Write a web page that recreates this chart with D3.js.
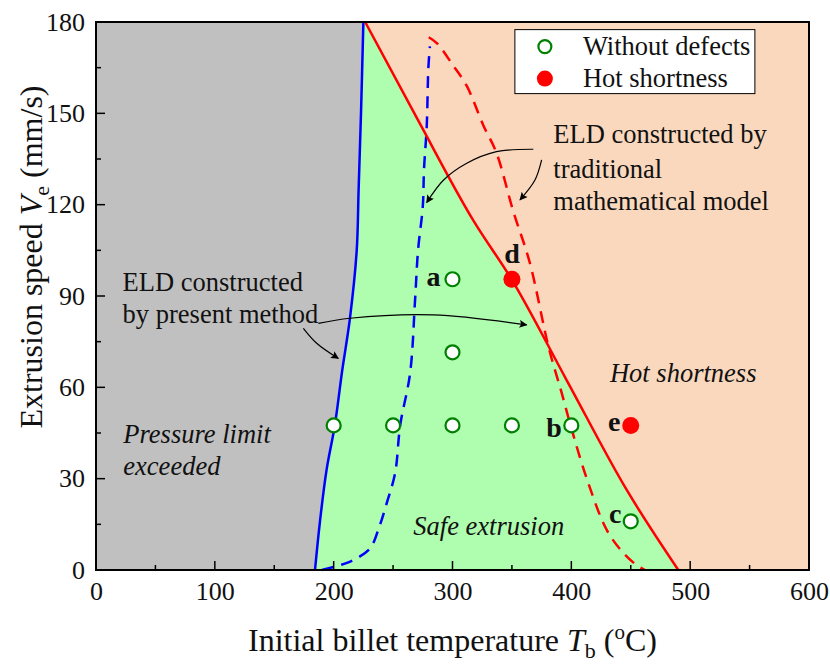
<html>
    <head>
        <script src="https://d3js.org/d3.v7.min.js"></script>
        <style>
            body { margin: 0; background: #fff; }
        </style>
    </head>
    <body>
        <div id="svg-area"></div>
        <script>
            const FONT = 'Liberation Serif';

            // boundary of "present method" (pressure limit), T (oC) vs V (mm/s)
            const presentT = [184.3, 188.6, 194, 201, 207, 213.8, 219.4, 221, 223, 225];
            const presentV = [0, 16.4, 32.8, 47.6, 65, 83, 105, 125, 150, 180];

            // hot shortness boundary, present method
            const hotT = [226.5, 272, 318, 350, 396, 446.6, 490];
            const hotV = [180, 147, 114.5, 95.3, 62.4, 26.3, 0];

            // traditional model, pressure limit (dashed blue)
            const tradPressT = [190, 205.4, 216.6, 230.6, 238.4, 244.6, 251.7, 256, 264.3, 268.5, 271, 275, 276, 278.3, 279.7, 281];
            const tradPressV = [0, 1.6, 3.3, 7.1, 14.2, 21.9, 31.8, 47.6, 64.6, 88.7, 105, 119.4, 131.4, 145.6, 165, 172];

            // traditional model, hot shortness (dashed red)
            const tradHotT = [280, 287, 300, 312, 326, 337, 351, 365, 381, 392, 399, 413, 430, 444, 455, 462];
            const tradHotV = [175, 173, 166, 159, 146, 137, 118, 101, 73, 58, 48, 30, 13, 5.5, 1.6, 0];

            // experiments
            const okT = [200, 250, 300, 350, 400, 300, 300, 450];
            const okV = [47.5, 47.5, 47.5, 47.5, 47.5, 95.5, 71.5, 16];
            const badT = [350, 450];
            const badV = [95.5, 47.5];

            const xTicks = [0, 100, 200, 300, 400, 500, 600];
            const yTicks = [0, 30, 60, 90, 120, 150, 180];

            const width = 830, height = 666;
            const margins = { top: 22, right: 21, bottom: 96, left: 96 };
            const chartWidth = width - margins.left - margins.right;
            const chartHeight = height - margins.top - margins.bottom;

            const svg = d3.select('#svg-area').append('svg')
                .attr('width', width).attr('height', height);

            const defs = svg.append('defs');
            defs.append('marker')
                .attr('id', 'head')
                .attr('viewBox', '0 0 10 10')
                .attr('refX', 9).attr('refY', 5)
                .attr('markerWidth', 14).attr('markerHeight', 8)
                .attr('markerUnits', 'userSpaceOnUse')
                .attr('orient', 'auto')
                .append('path').attr('d', 'M0,0 L10,5 L0,10 L2,5 Z').attr('fill', '#000');

            const chart = svg.append('g').attr('transform', `translate(${margins.left},${margins.top})`);

            const x = d3.scaleLinear().domain([0, 600]).range([0, chartWidth]);
            const y = d3.scaleLinear().domain([0, 180]).range([chartHeight, 0]);

            const zip = (ts, vs) => ts.map((t, i) => [t, vs[i]]);
            const present = zip(presentT, presentV);
            const hot = zip(hotT, hotV);

            const line = d3.line().x(d => x(d[0])).y(d => y(d[1]));
            const smooth = d3.line().x(d => x(d[0])).y(d => y(d[1])).curve(d3.curveCatmullRom);
            const hotLine = d3.line().x(d => x(d[0])).y(d => y(d[1])).curve(d3.curveMonotoneX);

            // regions
            chart.append('path')
                .attr('d', line([[0, 0], ...present, [0, 180]]) + 'Z')
                .attr('fill', '#c0c0c0');
            chart.append('path')
                .attr('d', line([...present]) + hotLine(hot).replace(/^M/, 'L') + 'Z')
                .attr('fill', '#affdaf');
            chart.append('path')
                .attr('d', hotLine(hot) + 'L' + x(600) + ',' + y(0) + 'L' + x(600) + ',' + y(180) + 'Z')
                .attr('fill', '#fad8bd');

            // boundaries
            chart.append('path').attr('d', smooth(zip(tradPressT, tradPressV)))
                .attr('fill', 'none').attr('stroke', '#0000ff').attr('stroke-width', 2.5)
                .attr('stroke-dasharray', '12,8');
            chart.append('path').attr('d', smooth(zip(tradHotT, tradHotV)))
                .attr('fill', 'none').attr('stroke', '#ff0000').attr('stroke-width', 2.5)
                .attr('stroke-dasharray', '12,8');
            chart.append('path').attr('d', smooth(present))
                .attr('fill', 'none').attr('stroke', '#0000ff').attr('stroke-width', 2.5);
            chart.append('path').attr('d', hotLine(hot))
                .attr('fill', 'none').attr('stroke', '#ff0000').attr('stroke-width', 2.5);

            // arrows (data coordinates)
            const arrows = [
                [[368, 138.2], [337, 137.4], [312, 133.6], [292.5, 128.1], [278.3, 120.7]],
                [[375, 134.7], [369.4, 128.1], [356.8, 121.6]],
                [[187.1, 81], [213.8, 82.7], [283.9, 83.8], [362.4, 80.5]],
                [[174.5, 79.4], [185.7, 74.5], [203.9, 69.5]]
            ];
            arrows.forEach(a => {
                chart.append('path').attr('d', smooth(a))
                    .attr('fill', 'none').attr('stroke', '#000').attr('stroke-width', 1.2)
                    .attr('marker-end', 'url(#head)');
            });

            // points
            okT.forEach((t, i) => {
                chart.append('circle')
                    .attr('cx', x(t)).attr('cy', y(okV[i])).attr('r', 7)
                    .attr('fill', '#fff').attr('stroke', '#008000').attr('stroke-width', 2.2);
            });
            badT.forEach((t, i) => {
                chart.append('circle')
                    .attr('cx', x(t)).attr('cy', y(badV[i])).attr('r', 8.5)
                    .attr('fill', '#ff0000');
            });

            // point letters
            const letters = [
                { s: 'a', t: 284, v: 93.3 },
                { s: 'd', t: 350, v: 100.8 },
                { s: 'b', t: 385.5, v: 43.7 },
                { s: 'e', t: 436, v: 45.7 },
                { s: 'c', t: 437, v: 15.3 }
            ];
            letters.forEach(l => {
                chart.append('text').attr('x', x(l.t)).attr('y', y(l.v))
                    .attr('text-anchor', 'middle').attr('font-weight', 'bold')
                    .attr('font-size', 28).attr('fill', '#111').text(l.s);
            });

            // notes
            const notes = [
                { s: 'ELD constructed by', t: 384.8, v: 140.3, it: false },
                { s: 'traditional', t: 384.8, v: 128.8, it: false },
                { s: 'mathematical model', t: 384.8, v: 118.3, it: false },
                { s: 'ELD constructed', t: 22.4, v: 91.7, it: false },
                { s: 'by present method', t: 22.4, v: 81, it: false },
                { s: 'Pressure limit', t: 23, v: 41.7, it: true },
                { s: 'exceeded', t: 23, v: 31.2, it: true },
                { s: 'Hot shortness', t: 432.5, v: 61.8, it: true },
                { s: 'Safe extrusion', t: 267, v: 11.5, it: true }
            ];
            notes.forEach(n => {
                chart.append('text').attr('x', x(n.t)).attr('y', y(n.v))
                    .attr('font-size', 26.5).attr('font-style', n.it ? 'italic' : 'normal')
                    .attr('fill', '#111').text(n.s);
            });

            // axes
            const bottomAxis = d3.axisBottom(x).tickValues(xTicks).tickSize(0).tickPadding(12);
            chart.append('g').attr('transform', `translate(0,${chartHeight})`).call(bottomAxis)
                .call(g => g.select('.domain').remove())
                .selectAll('text').attr('font-size', 26).attr('fill', '#111');
            const leftAxis = d3.axisLeft(y).tickValues(yTicks).tickSize(0).tickPadding(11);
            chart.append('g').call(leftAxis)
                .call(g => g.select('.domain').remove())
                .selectAll('text').attr('font-size', 26).attr('fill', '#111');

            // inward ticks
            const xMinor = d3.range(0, 601, 50);
            chart.append('g').selectAll('line').data(xMinor).join('line')
                .attr('x1', d => x(d)).attr('x2', d => x(d))
                .attr('y1', chartHeight).attr('y2', d => chartHeight - (d % 100 === 0 ? 9 : 5))
                .attr('stroke', '#000').attr('stroke-width', 1.5);
            const yMinor = d3.range(0, 181, 15);
            chart.append('g').selectAll('line').data(yMinor).join('line')
                .attr('y1', d => y(d)).attr('y2', d => y(d))
                .attr('x1', 0).attr('x2', d => (d % 30 === 0 ? 9 : 5))
                .attr('stroke', '#000').attr('stroke-width', 1.5);

            chart.append('rect').attr('width', chartWidth).attr('height', chartHeight)
                .attr('fill', 'none').attr('stroke', '#000').attr('stroke-width', 2);

            // legend
            const leg = chart.append('g').attr('transform', `translate(${x(352.5)},${y(177.5)})`);
            leg.append('rect').attr('width', 240).attr('height', 64)
                .attr('fill', '#fff').attr('stroke', '#000').attr('stroke-width', 1);
            leg.append('circle').attr('cx', 30).attr('cy', 17).attr('r', 6.5)
                .attr('fill', '#fff').attr('stroke', '#008000').attr('stroke-width', 2.2);
            leg.append('circle').attr('cx', 30).attr('cy', 49).attr('r', 8)
                .attr('fill', '#ff0000');
            leg.append('text').attr('x', 68).attr('y', 25).attr('font-size', 26.5).attr('fill', '#111').text('Without defects');
            leg.append('text').attr('x', 68).attr('y', 57).attr('font-size', 26.5).attr('fill', '#111').text('Hot shortness');

            // axis titles
            const xt = svg.append('text')
                .attr('x', margins.left + chartWidth / 2).attr('y', 651)
                .attr('text-anchor', 'middle').attr('font-size', 32).attr('fill', '#111');
            xt.append('tspan').text('Initial billet temperature ');
            xt.append('tspan').attr('font-style', 'italic').text('T');
            xt.append('tspan').attr('font-size', 22).attr('dy', 7).text('b');
            xt.append('tspan').attr('dy', -7).text(' (');
            xt.append('tspan').attr('font-size', 21).attr('dy', -12).text('o');
            xt.append('tspan').attr('dy', 12).text('C)');

            const yt = svg.append('text')
                .attr('transform', `translate(42,257) rotate(-90)`)
                .attr('text-anchor', 'middle').attr('font-size', 32).attr('fill', '#111');
            yt.append('tspan').text('Extrusion speed ');
            yt.append('tspan').attr('font-style', 'italic').text('V');
            yt.append('tspan').attr('font-size', 22).attr('dy', 7).text('e');
            yt.append('tspan').attr('dy', -7).text(' (mm/s)');

            // serif everywhere
            svg.selectAll('text, tspan').attr('font-family', FONT).style('font-family', FONT);
        </script>
    </body>
</html>
